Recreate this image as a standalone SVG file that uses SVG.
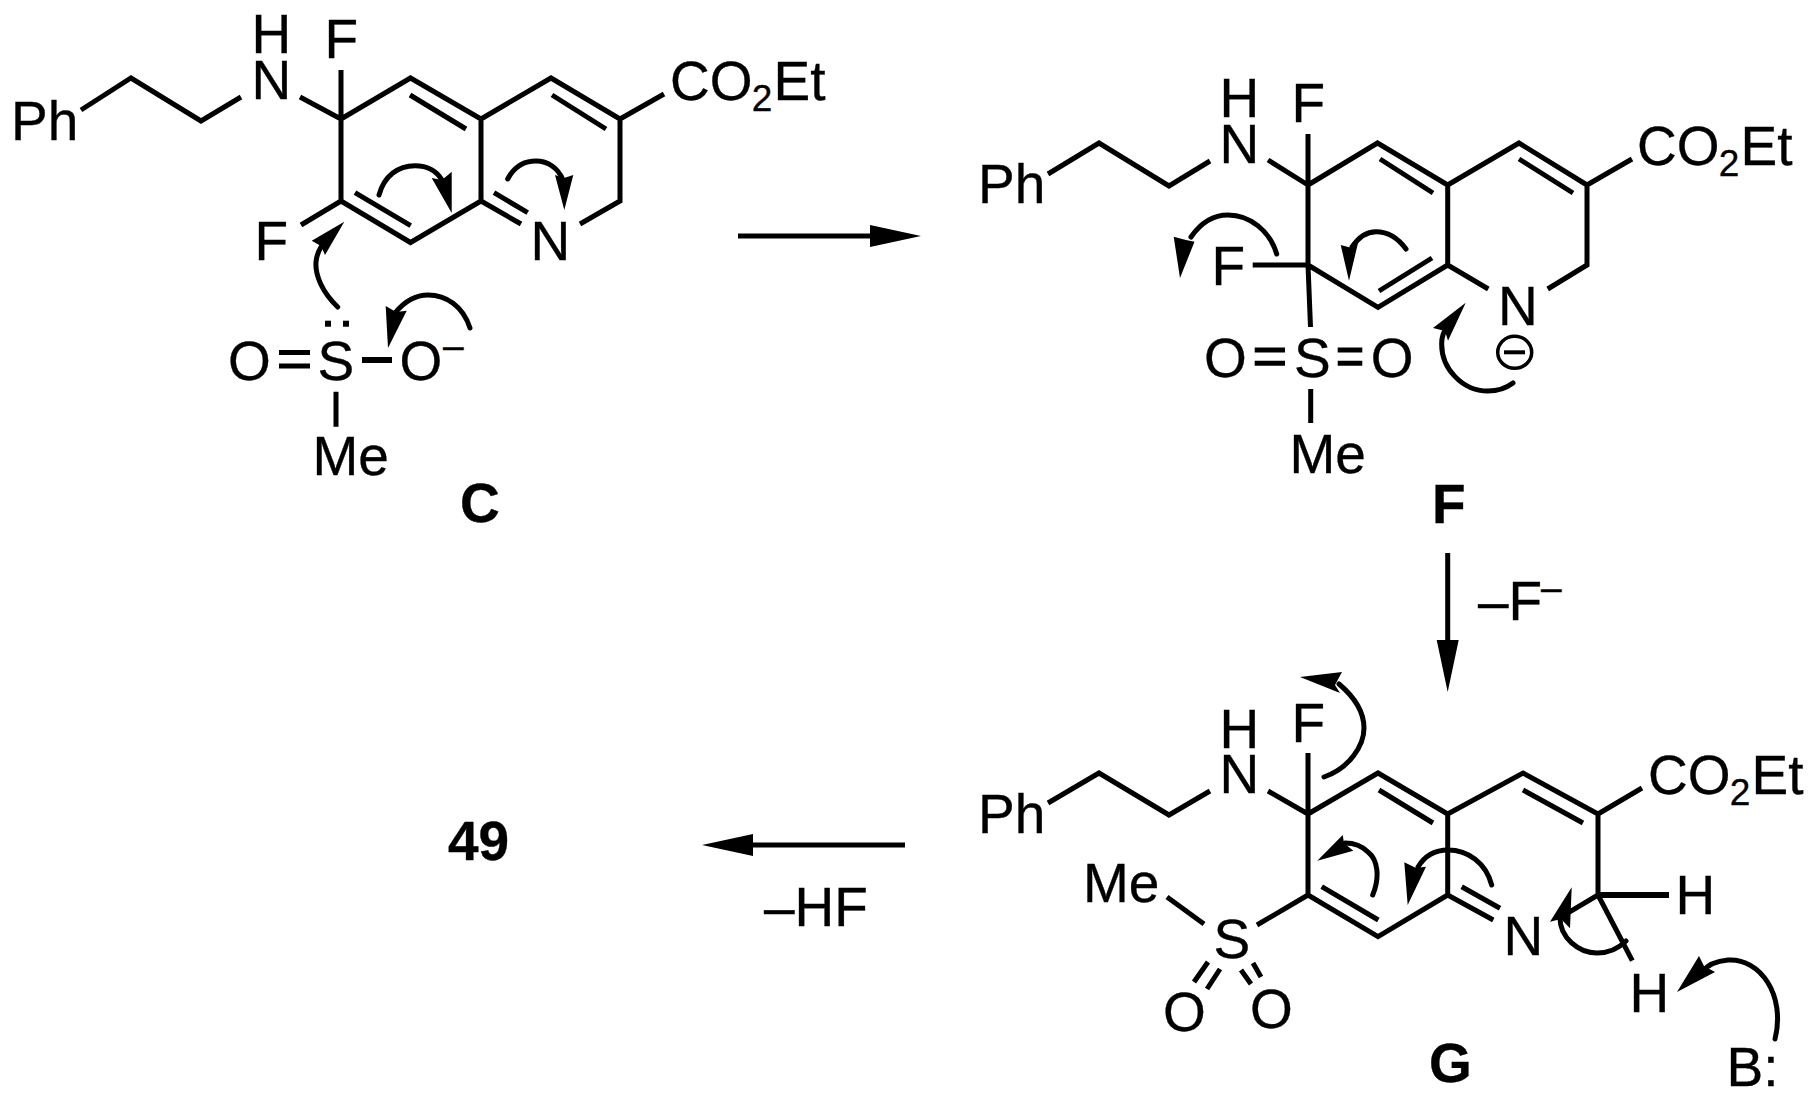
<svg xmlns="http://www.w3.org/2000/svg" width="1815" height="1104" viewBox="0 0 1815 1104">
<style>
text{font-family:"Liberation Sans",Arial,sans-serif;font-size:55px;fill:#000;stroke:#000;stroke-width:.35}
.s{font-size:37px}
.b{font-weight:700;font-size:55px}
.l{fill:none;stroke:#000;stroke-width:5;stroke-linecap:butt;stroke-linejoin:miter}
.c{fill:none;stroke:#000;stroke-width:5;stroke-linecap:round}
.h{fill:#000;stroke:none}
</style>
<rect width="1815" height="1104" fill="#fff"/>
<g id="C">
<path class="l" d="M81 110L131 78L201 121L241 97M300 97L341 119M341 70V119M341 119L410.500 78L481 119V201L410.500 242.500L341 201V119M410 95L466 129M481 119L551 78L620 119V201L580 224M552 95L606 129M355 192.700L410.700 225.700M481 201L521 224M494 192.700L527.700 212.700M620 119L664 94M341 201L301 225"/>
<text x="251.500" y="53">H</text><text x="251.500" y="99">N</text><text x="324.500" y="58">F</text>
<text x="11" y="140">Ph</text>
<text x="670" y="100">CO</text><text class="s" x="751.700" y="111">2</text><text x="773.500" y="100">Et</text>
<text x="254.500" y="260">F</text><text x="530.500" y="260">N</text>
<path class="c" d="M379 195C384 176 398 165.700 415 165.700C427 165.700 436 170 442 180M507.700 179C514 167 524 161 536 161C548 161 558 168 563 180M337.700 307C322 292 315 275 316 262C316.500 256 318 252 321 247M470 328C463 306 446 295 428 295C415 295 404 302 395 313"/>
<path class="h" d="M451.700 213L431.700 178L442 180L451.700 171.700ZM564.300 210L555 175L564 178L573.300 175ZM344.300 221.700L311.700 240.700L321 246L325 255ZM388 348L385.700 306L396 312L406.700 310.700Z"/>
<rect x="325" y="320.700" width="6" height="6"/><rect x="343" y="320.700" width="6" height="6"/>
<text x="228" y="380">O</text><text x="317.500" y="380">S</text><text x="399.500" y="380">O</text>
<text class="s" x="443" y="358">–</text>
<path class="l" d="M279 352.500H310M279 366H310M336 391.700V426.700"/>
<path d="M362 360H392" stroke="#000" stroke-width="6" fill="none"/>
<text x="312.500" y="475">Me</text>
<text class="b" x="460" y="522">C</text>
</g>
<g id="F">
<path class="l" d="M1048 174L1099 143L1169 186L1210 161M1268 160L1308 185M1308 134V185M1308 185L1377.500 143L1447.700 185V265L1378 307.300L1308 265V185M1380 159L1433 193M1447.700 185L1519 143L1587 185V265L1547.700 289M1519 159L1573 193M1432 258L1379 291M1447.700 265L1488.300 289M1587 185L1632 159M1252.700 265H1308M1308 265L1310.500 327"/>
<text x="978" y="203">Ph</text><text x="1219.500" y="117">H</text><text x="1219.500" y="163">N</text><text x="1291.500" y="122">F</text>
<text x="1637" y="165">CO</text><text class="s" x="1718.700" y="176">2</text><text x="1740.500" y="165">Et</text>
<text x="1211.500" y="285">F</text><text x="1498" y="325">N</text>
<text x="1204" y="377">O</text><text x="1294" y="377">S</text><text x="1370.700" y="377">O</text>
<path class="l" d="M1254.700 350H1285M1254.700 363.300H1285M1337.700 350H1362.300M1337.700 363.300H1362.300M1310.700 389V423"/>
<text x="1289.500" y="473">Me</text>
<text class="b" x="1432" y="523">F</text>
<ellipse cx="1514.700" cy="352.300" rx="17" ry="16" fill="none" stroke="#000" stroke-width="3.500"/>
<path d="M1504 352.300H1525" stroke="#000" stroke-width="4"/>
<path class="c" d="M1276.700 254C1270 231 1250 215 1228 215C1212 215 1200 224 1191 237M1406 249C1398 238 1388 231.700 1376 231.700C1366 231.700 1358 238 1352 247M1513 383C1505 389 1497 391 1488 391C1462 391 1441 368 1441.700 343C1441.700 337 1444 331 1447 326"/>
<path class="h" d="M1180 278L1173.700 236.700L1186 240L1194.500 241.700ZM1349 280.700L1340.700 245L1350 247.500L1358 243ZM1465.700 302.700L1433 328L1445 331L1448 340.700Z"/>
</g>
<g id="G">
<path class="l" d="M1048 803L1099 773L1169 815L1210 791M1268 791L1308 814M1308 753V814M1308 814L1378 773L1447.700 814V895L1378 936.700L1308 895V814M1379 790L1433 823M1447.700 814L1523 773L1598 814V895L1561.700 916.700M1523 790L1583 823M1321.700 886.700L1378.300 920M1447.700 895L1493.300 920M1461.700 886.700L1500 908.300M1598 814L1642 788M1308 895L1257 925M1167 897L1204 924M1208 962L1194 982M1220 969L1207 989M1241 970L1251 984M1253 963L1261 977M1598 895L1632.300 960.700"/>
<path d="M1598 895H1669" stroke="#000" stroke-width="6" fill="none"/>
<text x="978" y="833">Ph</text><text x="1219.500" y="748">H</text><text x="1219.500" y="793">N</text><text x="1291.500" y="742">F</text>
<text x="1648" y="794">CO</text><text class="s" x="1729.700" y="805">2</text><text x="1751.500" y="794">Et</text>
<text x="1503.500" y="955">N</text><text x="1675.500" y="914">H</text><text x="1629.500" y="1011.500">H</text>
<text x="1213.500" y="958">S</text><text x="1083" y="902">Me</text>
<text x="1163" y="1031">O</text><text x="1250" y="1028">O</text>
<text class="b" x="1429" y="1082">G</text><text x="1726.500" y="1086">B:</text>
<path class="c" d="M1324 777C1350 768 1364 745 1364 728C1364 710 1352 695 1339 684M1372.700 895C1380 877 1378 860 1368 852C1362 846 1354 843 1345 843M1491.700 885C1486 863 1468 850 1448 850C1434 850 1424 857 1418 867M1626 941C1617 950 1607 953 1597 953C1578 953 1560 937 1560 918M1775 1039C1786 995 1760 958 1728 960C1716 961 1708 964 1702 972"/>
<path class="h" d="M1300 677L1342 672L1335 685L1340 693ZM1317.300 860.700L1342.700 835L1344 843L1353.300 850.700ZM1407.700 905L1404.300 862.300L1416 868L1426 866.700ZM1571.700 887.300L1550 921.700L1561 919L1570 928.300ZM1677 992L1699 956L1704 966L1715 972Z"/>
</g>
<g id="connectors">
<path class="l" d="M738 236H875M1447.700 553V640M905 845H750"/>
<path class="h" d="M921 236L870 225V247ZM1447.700 692L1436.700 640H1458.700ZM702 845L753 834V856Z"/>
</g>
<g id="labels">
<text x="1478" y="620">–F</text><text class="s" x="1541" y="600">–</text>
<text x="764" y="926">–HF</text>
<text class="b" x="448" y="860">49</text>
</g>
</svg>
